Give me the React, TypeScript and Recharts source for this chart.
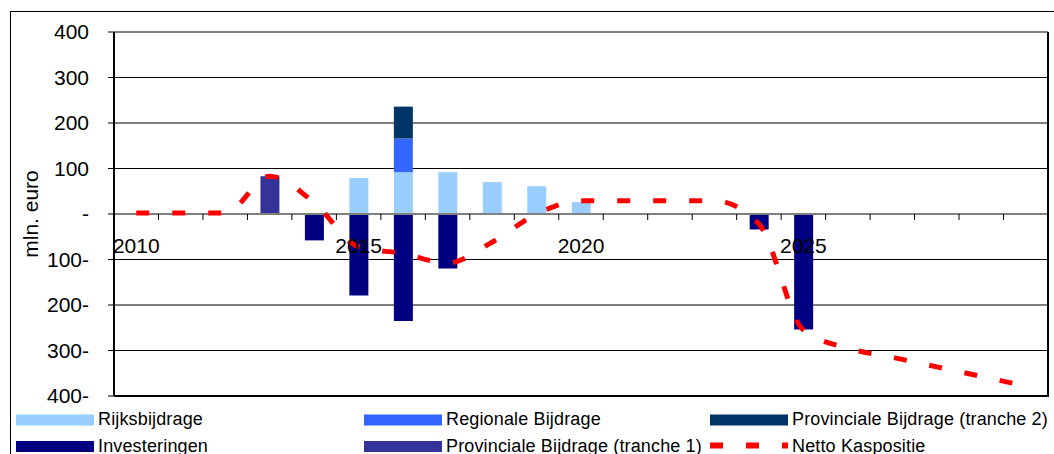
import { ComposedChart, Bar, Line, XAxis, YAxis, CartesianGrid, ReferenceLine } from "recharts";

const years = [
  "2010", "2011", "2012", "2013", "2014", "2015", "2016", "2017", "2018", "2019", "2020",
  "2021", "2022", "2023", "2024", "2025", "2026", "2027", "2028", "2029", "2030",
];
const xLabels = ["2010", "2015", "2020", "2025"];
const yTicks = [-400, -300, -200, -100, 0, 100, 200, 300, 400];

// bedragen in mln. euro per jaar
const rijksbijdrage = [null, null, null, null, null, 79, 92, 92, 70, 61, 26, null, null, null, null, null, null, null, null, null, null];
const regionaleBijdrage = [null, null, null, null, null, null, 74, null, null, null, null, null, null, null, null, null, null, null, null, null, null];
const provincialeTranche2 = [null, null, null, null, null, null, 70, null, null, null, null, null, null, null, null, null, null, null, null, null, null];
const investeringen = [null, null, null, null, -58, -179, -235, -120, null, null, null, null, null, null, -34, -254, null, null, null, null, null];
const provincialeTranche1 = [null, null, null, 83, null, null, null, null, null, null, null, null, null, null, null, null, null, null, null, null, null];
const nettoKaspositie = [2, 2, 2, 83, 25, -72, -87, -108, -62, 0, 29, 29, 29, 29, -22, -255, -295, -315, -336, -357, -378];

const data = years.map((year, i) => ({
  year,
  rijks: rijksbijdrage[i],
  regionaal: regionaleBijdrage[i],
  tranche2: provincialeTranche2[i],
  investeringen: investeringen[i],
  tranche1: provincialeTranche1[i],
  netto: nettoKaspositie[i],
}));

const COLORS = {
  rijks: "#99CCFF",
  regionaal: "#3366FF",
  tranche2: "#003366",
  investeringen: "#000080",
  tranche1: "#333399",
  netto: "#FF0000",
};

const FONT = "'Liberation Sans', Arial, sans-serif";
const W = 1054;
const H = 454;
const PLOT_TOP = 32;
const PLOT_BOTTOM = 396;
const PLOT_LEFT = 114;
const PLOT_RIGHT = 1048;
const ZERO_Y = (PLOT_TOP + PLOT_BOTTOM) / 2;
const BAND = (PLOT_RIGHT - PLOT_LEFT) / years.length;
const DASH = "13 23";

const fmtY = (v: number) => (v === 0 ? "-" : v < 0 ? `${-v}-` : `${v}`);

// x-as ligt op de nullijn: streepjes tussen de jaren, label om de vijf jaar
function XTick(props: any) {
  const { x, payload, index } = props;
  const showLabel = xLabels.includes(payload.value);
  return (
    <g>
      {index < years.length - 1 && (
        <line x1={x + BAND / 2} x2={x + BAND / 2} y1={ZERO_Y} y2={ZERO_Y + 6} stroke="#000" strokeWidth={1} />
      )}
      {showLabel && (
        <text x={x} y={ZERO_Y + 39} textAnchor="middle" fontSize={21} fontFamily={FONT} fill="#000">
          {payload.value}
        </text>
      )}
    </g>
  );
}

const legendItems = [
  { label: "Rijksbijdrage", color: COLORS.rijks, col: 0, row: 0 },
  { label: "Regionale Bijdrage", color: COLORS.regionaal, col: 1, row: 0 },
  { label: "Provinciale Bijdrage (tranche 2)", color: COLORS.tranche2, col: 2, row: 0 },
  { label: "Investeringen", color: COLORS.investeringen, col: 0, row: 1 },
  { label: "Provinciale Bijdrage (tranche 1)", color: COLORS.tranche1, col: 1, row: 1 },
  { label: "Netto Kaspositie", color: COLORS.netto, col: 2, row: 1, dashed: true },
];
const legendCols = [16, 364, 710];
const legendRows = [420, 446.5];

function ChartLegend() {
  return (
    <svg width={W} height={H} style={{ position: "absolute", left: 0, top: 0, pointerEvents: "none" }}>
      {legendItems.map((it) => {
        const x = legendCols[it.col];
        const cy = legendRows[it.row];
        return (
          <g key={it.label}>
            {it.dashed ? (
              <line x1={x} x2={x + 78} y1={cy - 1} y2={cy - 1} stroke={it.color} strokeWidth={6} strokeDasharray={DASH} />
            ) : (
              <rect x={x} y={cy - 5.5} width={78} height={11} fill={it.color} />
            )}
            <text x={x + 82} y={cy + 5} fontSize={18} letterSpacing={0.15} fontFamily={FONT} fill="#000">
              {it.label}
            </text>
          </g>
        );
      })}
    </svg>
  );
}

export default function App() {
  return (
    <div style={{ position: "absolute", left: 0, top: 0, width: W, height: H, background: "#fff", overflow: "hidden" }}>
      <div
        style={{
          position: "absolute",
          left: 10,
          top: 11,
          width: W,
          height: H,
          border: "1px solid #000",
          boxSizing: "border-box",
        }}
      />
      <ComposedChart
        width={W}
        height={H}
        data={data}
        stackOffset="sign"
        margin={{ top: PLOT_TOP, right: W - PLOT_RIGHT, bottom: 0, left: 0 }}
        style={{ position: "absolute", left: 0, top: 0 }}
      >
        <CartesianGrid vertical={false} stroke="#000" strokeWidth={1} />
        <XAxis
          dataKey="year"
          interval={0}
          height={H - PLOT_BOTTOM}
          tickLine={false}
          axisLine={{ stroke: "#000", strokeWidth: 2 }}
          tick={<XTick />}
        />
        <YAxis
          width={PLOT_LEFT}
          domain={[-400, 400]}
          ticks={yTicks}
          tickFormatter={fmtY}
          tickSize={6}
          tickMargin={19}
          tickLine={{ stroke: "#000" }}
          axisLine={{ stroke: "#000", strokeWidth: 2 }}
          tick={{ fill: "#000", fontSize: 21, fontFamily: FONT }}
          label={({ viewBox }: any) => (
            <text
              x={30}
              y={viewBox.y + viewBox.height / 2}
              transform={`rotate(-90 30 ${viewBox.y + viewBox.height / 2})`}
              textAnchor="middle"
              dominantBaseline="central"
              fontSize={21}
              fontFamily={FONT}
              fill="#000"
            >
              mln. euro
            </text>
          )}
        />
        <Bar dataKey="rijks" name="Rijksbijdrage" stackId="a" fill={COLORS.rijks} barSize={19} isAnimationActive={false} />
        <Bar dataKey="regionaal" name="Regionale Bijdrage" stackId="a" fill={COLORS.regionaal} barSize={19} isAnimationActive={false} />
        <Bar dataKey="tranche2" name="Provinciale Bijdrage (tranche 2)" stackId="a" fill={COLORS.tranche2} barSize={19} isAnimationActive={false} />
        <Bar dataKey="tranche1" name="Provinciale Bijdrage (tranche 1)" stackId="a" fill={COLORS.tranche1} barSize={19} isAnimationActive={false} />
        <Bar dataKey="investeringen" name="Investeringen" stackId="a" fill={COLORS.investeringen} barSize={19} isAnimationActive={false} />
        <ReferenceLine y={0} stroke="#808080" strokeWidth={2} />
        <Line
          type="monotone"
          dataKey="netto"
          name="Netto Kaspositie"
          stroke={COLORS.netto}
          strokeWidth={5}
          strokeDasharray={DASH}
          dot={false}
          activeDot={false}
          isAnimationActive={false}
        />
      </ComposedChart>
      {/* rechterrand van het plotvlak */}
      <div
        style={{
          position: "absolute",
          left: PLOT_RIGHT - 1,
          top: PLOT_TOP,
          width: 2,
          height: PLOT_BOTTOM - PLOT_TOP + 1,
          background: "#000",
        }}
      />
      <ChartLegend />
    </div>
  );
}
